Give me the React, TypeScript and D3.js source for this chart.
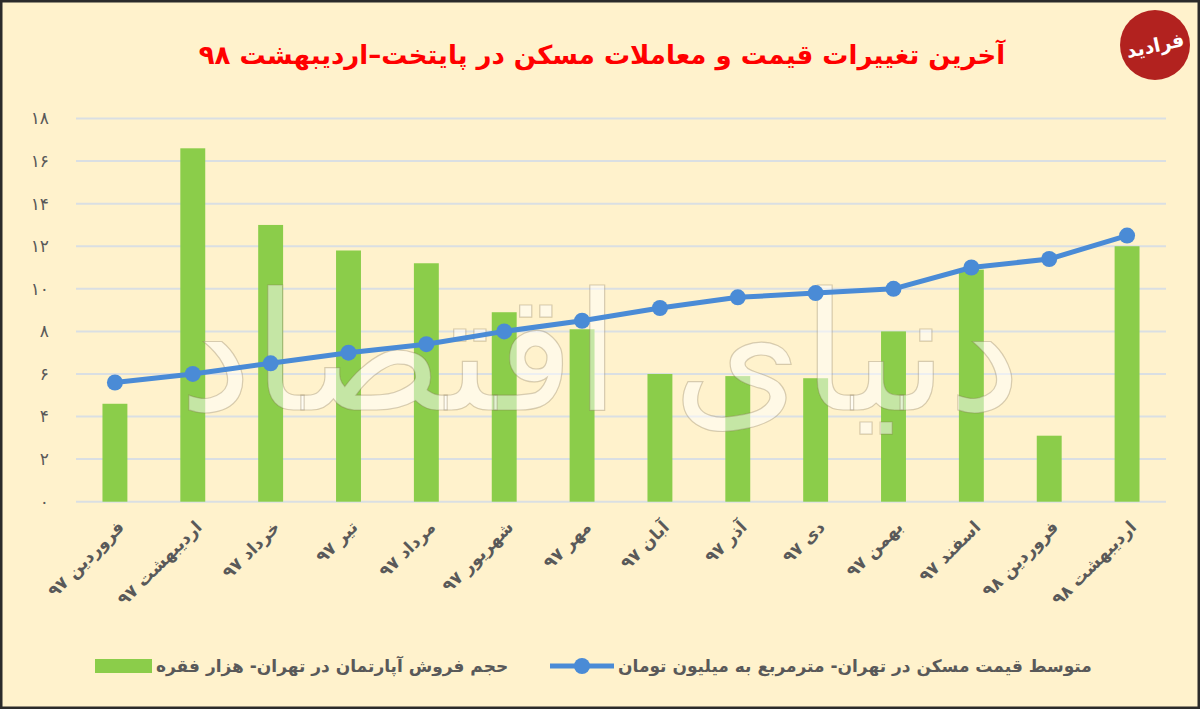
import * as d3 from "d3";

const categories = [
  "فروردین ۹۷",
  "اردیبهشت ۹۷",
  "خرداد ۹۷",
  "تیر ۹۷",
  "مرداد ۹۷",
  "شهریور ۹۷",
  "مهر ۹۷",
  "آبان ۹۷",
  "آذر ۹۷",
  "دی ۹۷",
  "بهمن ۹۷",
  "اسفند ۹۷",
  "فروردین ۹۸",
  "اردیبهشت ۹۸",
];
// حجم فروش آپارتمان - هزار فقره
const salesVolume = [4.6, 16.6, 13.0, 11.8, 11.2, 8.9, 8.1, 6.0, 5.9, 5.8, 8.0, 10.9, 3.1, 12.0];
// متوسط قیمت - میلیون تومان
const avgPrice = [5.6, 6.0, 6.5, 7.0, 7.4, 8.0, 8.5, 9.1, 9.6, 9.8, 10.0, 11.0, 11.4, 12.5];
const yTicks = [0, 2, 4, 6, 8, 10, 12, 14, 16, 18];

const title = "آخرین تغییرات قیمت و معاملات مسکن در پایتخت–اردیبهشت ۹۸";
const barLabel = "حجم فروش آپارتمان در تهران- هزار فقره";
const lineLabel = "متوسط قیمت مسکن در تهران- مترمربع به میلیون تومان";

const W = 1200;
const H = 709;
const font = "'DejaVu Sans', sans-serif";
const BG = "#FFF2CC";
const GREEN = "#8BCD4A";
const BLUE = "#4A8BD6";
const GRID = "#DADFE3";
const LABEL = "#595959";

const faDigits = (s: string) => s.replace(/\d/g, (d) => "۰۱۲۳۴۵۶۷۸۹"[+d]);

export default function App() {
  const x = d3
    .scaleBand<string>()
    .domain(categories)
    .range([76, 1166])
    .paddingInner(0.68)
    .paddingOuter(0.34);
  const y = d3.scaleLinear().domain([0, 18]).range([501.7, 118.5]);
  const cx = (c: string) => (x(c) ?? 0) + x.bandwidth() / 2;

  const line = d3
    .line<number>()
    .x((_, i) => cx(categories[i]))
    .y((d) => y(d));

  return (
    <>
      <style>{`body{margin:0}`}</style>
      <svg width={W} height={H} style={{ display: "block", fontFamily: font }}>
        <rect x={0} y={0} width={W} height={H} fill={BG} />
        <rect x={1} y={1} width={W - 2} height={H - 2} fill="none" stroke="#2b2b2b" strokeWidth={3} />

        {/* title */}
        <text x={602} y={64} textAnchor="middle" fill="#FF0000" fontWeight="bold" fontSize={26}>
          {title}
        </text>

        {/* logo */}
        <g>
          <circle cx={1155} cy={45} r={35} fill="#B2221F" />
          <text
            x={1155}
            y={52}
            textAnchor="middle"
            fill="#fff"
            fontWeight="bold"
            fontSize={19}
            transform="rotate(-12 1155 45)"
          >
            فرادید
          </text>
        </g>

        {/* gridlines */}
        {yTicks.map((t) => (
          <line key={t} x1={76} x2={1166} y1={y(t)} y2={y(t)} stroke={GRID} strokeWidth={2} />
        ))}
        {yTicks.map((t) => (
          <text
            key={"l" + t}
            x={49}
            y={y(t)}
            dy="0.35em"
            textAnchor="end"
            fill={LABEL}
            fontSize={17}
          >
            {faDigits(String(t))}
          </text>
        ))}

        {/* bars */}
        {salesVolume.map((v, i) => (
          <rect
            key={i}
            x={x(categories[i])}
            y={y(v)}
            width={x.bandwidth()}
            height={y(0) - y(v)}
            fill={GREEN}
          />
        ))}

        {/* watermark */}
        <text
          x={600}
          y={410}
          textAnchor="middle"
          fontSize={165}
          fill="#ffffff"
          fillOpacity={0.5}
          stroke="#7a6a4a"
          strokeOpacity={0.3}
          strokeWidth={1.2}
        >
          دنیای اقتصاد
        </text>

        {/* line */}
        <path d={line(avgPrice) ?? ""} fill="none" stroke={BLUE} strokeWidth={5} strokeLinejoin="round" />
        {avgPrice.map((v, i) => (
          <circle key={i} cx={cx(categories[i])} cy={y(v)} r={8} fill={BLUE} />
        ))}

        {/* x labels */}
        {categories.map((c) => (
          <text
            key={c}
            transform={`translate(${cx(c) + 6},${524}) rotate(-45)`}
            dy="0.35em"
            textAnchor="end"
            fill={LABEL}
            fontSize={17}
            fontWeight="bold"
          >
            {c}
          </text>
        ))}

        {/* legend */}
        <rect x={95} y={659} width={57} height={14} fill={GREEN} />
        <text x={156} y={666} dy="0.35em" fill={LABEL} fontSize={17} fontWeight="bold">
          {barLabel}
        </text>
        <line x1={550} x2={614} y1={666} y2={666} stroke={BLUE} strokeWidth={5} />
        <circle cx={582} cy={666} r={8} fill={BLUE} />
        <text x={618} y={666} dy="0.35em" fill={LABEL} fontSize={17} fontWeight="bold">
          {lineLabel}
        </text>
      </svg>
    </>
  );
}
